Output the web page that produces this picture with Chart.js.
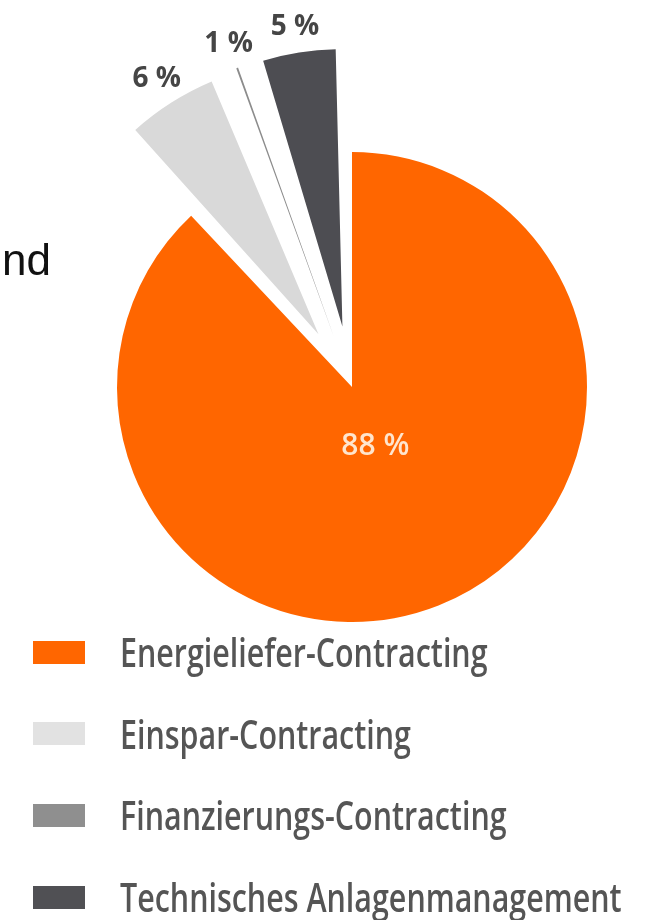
<!DOCTYPE html>
<html lang="de">
<head>
<meta charset="UTF-8">
<title>Contracting-Arten</title>
<script src="https://cdn.jsdelivr.net/npm/chart.js@4.4.0/dist/chart.umd.min.js"></script>
<style>
    body { margin: 0; background: #fff; }
    #wrap { position: relative; width: 652px; height: 920px; overflow: hidden; }
    #chartBox { position: absolute; left: 0; top: 0; width: 652px; height: 920px; }
    #und { position: absolute; right: 601px; top: 238px; font: 44px "Liberation Sans", Arial, sans-serif; line-height: 44px; color: #111; white-space: nowrap; }
    #legend { position: absolute; left: 33px; top: 632px; }
    .legend-row { display: flex; align-items: center; height: 40px; margin-bottom: 41.7px; }
    .legend-box { width: 52px; height: 23px; margin-right: 35px; flex: none; }
    .legend-text { font: 600 39px "Open Sans", sans-serif; line-height: 40px; color: #555; white-space: nowrap; transform: scaleX(0.78); transform-origin: left center; }
</style>
</head>
<body>
<div id="wrap">
    <div id="chartBox"><canvas id="myChart"></canvas></div>
    <div id="und">und</div>
    <div id="legend"></div>
</div>
<script>
const categories = ['Energieliefer-Contracting', 'Einspar-Contracting', 'Finanzierungs-Contracting', 'Technisches Anlagenmanagement'];
const values = [88, 6, 1, 5];
const colors = ['#ff6600', '#d9d9d9', '#8c8c8c', '#4d4d52'];
const legendColors = ['#ff6600', '#e2e2e2', '#8f8f8f', '#505054'];
// how far the small slices are pulled out (Chart.js offset, px)
const offsets = [0, 250, 215, 245];

const percentLabels = {
    id: 'percentLabels',
    afterDatasetsDraw(chart) {
        const ctx = chart.ctx;
        const arcs = chart.getDatasetMeta(0).data;
        ctx.save();
        ctx.textAlign = 'center';
        ctx.textBaseline = 'middle';
        arcs.forEach((arc, i) => {
            const p = arc.getProps(['x', 'y', 'startAngle', 'endAngle', 'outerRadius']);
            const mid = (p.startAngle + p.endAngle) / 2;
            let d;
            if (i === 0) {
                ctx.font = '600 30px "Open Sans"';
                ctx.fillStyle = 'rgba(255,236,216,0.95)';
                d = p.outerRadius * 0.27;
            } else {
                ctx.font = 'bold 28px "Open Sans"';
                ctx.fillStyle = '#454545';
                d = p.outerRadius * 1.55;
            }
            ctx.fillText(values[i] + ' %', p.x + Math.cos(mid) * d, p.y + Math.sin(mid) * d);
        });
        ctx.restore();
    }
};

document.addEventListener('DOMContentLoaded', () => {
    drawChart();
    drawLegend();
});

function drawChart() {
    const ctx = document.getElementById('myChart').getContext('2d');
    new Chart(ctx, {
        type: 'pie',
        data: {
            labels: categories,
            datasets: [{
                data: values,
                backgroundColor: colors,
                borderWidth: 0,
                offset: offsets,
                radius: 235,
                clip: false
            }]
        },
        options: {
            responsive: true,
            maintainAspectRatio: false,
            animation: false,
            events: [],
            layout: { padding: { left: 52, right: 0, top: 0, bottom: 146 } },
            plugins: {
                legend: { display: false },
                tooltip: { enabled: false }
            }
        },
        plugins: [percentLabels]
    });
}

function drawLegend() {
    const legend = document.getElementById('legend');
    for (let i = 0; i < categories.length; i++) {
        const row = document.createElement('div');
        row.className = 'legend-row';
        const box = document.createElement('span');
        box.className = 'legend-box';
        box.style.background = legendColors[i];
        const text = document.createElement('span');
        text.className = 'legend-text';
        text.innerText = categories[i];
        row.appendChild(box);
        row.appendChild(text);
        legend.appendChild(row);
    }
}
</script>
</body>
</html>
